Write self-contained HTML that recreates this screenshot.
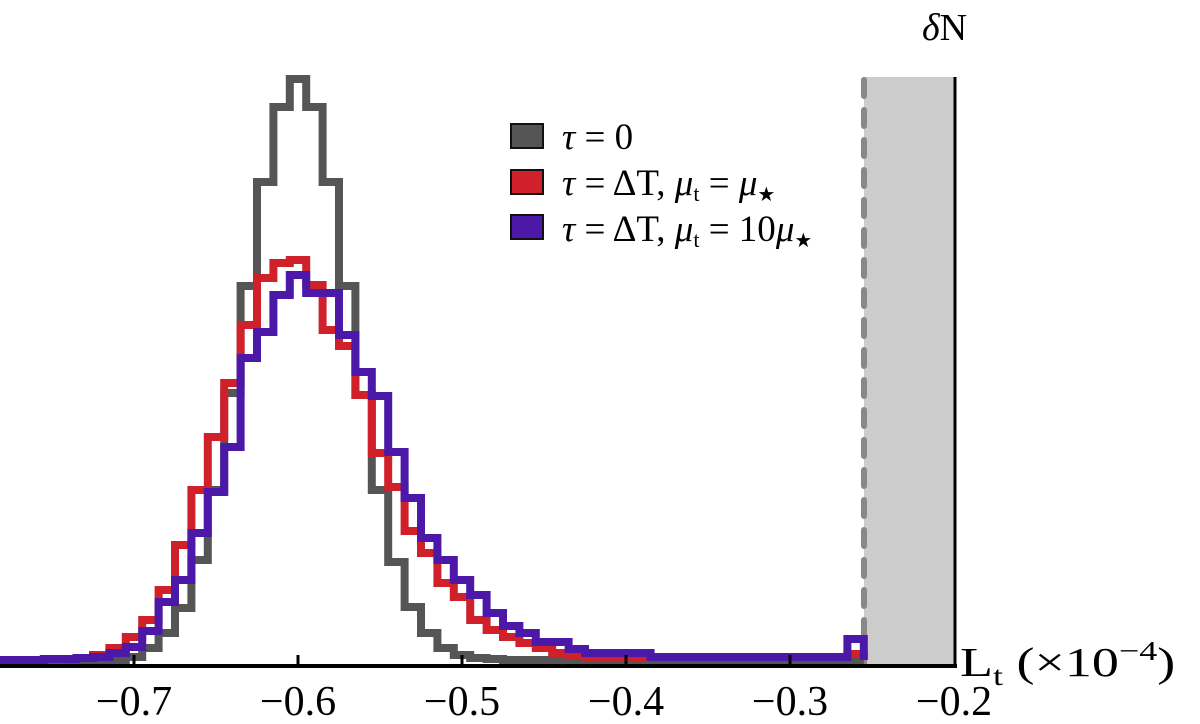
<!DOCTYPE html>
<html><head><meta charset="utf-8"><style>
html,body{margin:0;padding:0;background:#fff;}
svg{display:block;}
text{font-family:"Liberation Serif",serif;}
</style></head><body>
<svg id="chart" width="1200" height="724" viewBox="0 0 1200 724" xmlns="http://www.w3.org/2000/svg">
<rect x="864" y="77" width="91" height="589" fill="#cccccc"/>
<line x1="864" y1="80" x2="864" y2="664" stroke="#888" stroke-width="6" stroke-dasharray="16,14" stroke-linecap="round"/>
<line x1="955" y1="77" x2="955" y2="666" stroke="#000" stroke-width="3"/>
<g id="series"></g>
<line x1="0" y1="666" x2="957" y2="666" stroke="#000" stroke-width="4"/>
<g id="ticks"></g>
<text x="922" y="40" font-size="38"><tspan font-style="italic">δ</tspan>N</text>
<g transform="translate(960,676) scale(1.5,1.15)">
<text x="0" y="0" font-size="36">L<tspan font-size="24" dy="8">t</tspan><tspan dy="-8"> (×10</tspan><tspan font-size="24" dy="-14">−4</tspan><tspan dy="14">)</tspan></text>
</g>
<g>
<rect x="511" y="124" width="32" height="24" fill="#555" stroke="#111" stroke-width="2"/>
<text x="562" y="149" font-size="37"><tspan font-style="italic">τ</tspan> = 0</text>
<rect x="511" y="170" width="32" height="24" fill="#d0202a" stroke="#111" stroke-width="2"/>
<text x="562" y="195" font-size="37"><tspan font-style="italic">τ</tspan> = ΔT, <tspan font-style="italic">μ</tspan><tspan font-size="22" dy="6">t</tspan><tspan dy="-6"> = </tspan><tspan font-style="italic">μ</tspan><tspan font-size="20" dy="6">★</tspan></text>
<rect x="511" y="215" width="32" height="24" fill="#4b18a8" stroke="#111" stroke-width="2"/>
<text x="562" y="241" font-size="37"><tspan font-style="italic">τ</tspan> = ΔT, <tspan font-style="italic">μ</tspan><tspan font-size="22" dy="6">t</tspan><tspan dy="-6"> = 10</tspan><tspan font-style="italic">μ</tspan><tspan font-size="20" dy="6">★</tspan></text>
</g>
</svg>
<script>
const binCenters = [];
for (let i = 0; i < 53; i++) binCenters.push(-0.78 + i * 0.01);
const grayCounts = [0,0,0,0,0,0,0,0,3,12,27,52,100,170,267,374,478,553,581,553,478,374,265,170,98,53,27,12,5,2,1,0,0,0,0,0,0,0,0,0,0,0,0,0,0,0,0,0,0,0,0,0,0];
const redCounts = [0,0,0,0,1,2,5,12,23,40,70,115,170,223,277,335,382,397,400,375,330,314,265,207,173,129,107,77,63,40,30,23,17,12,7,4,3,2,2,2,2,2,2,2,2,2,2,2,2,2,2,2,6];
const blueCounts = [0,0,0,1,1,2,3,7,13,29,58,80,127,168,213,302,328,365,385,367,367,325,288,264,208,162,122,100,80,65,47,34,27,18,18,11,7,7,7,7,3,3,3,3,3,3,3,3,3,3,3,3,21];
const tickValues = [-0.7,-0.6,-0.5,-0.4,-0.3,-0.2];
const tickLabels = ["−0.7","−0.6","−0.5","−0.4","−0.3","−0.2"];
const binWidth = 0.01;

function xScale(v){ return 134 + (v + 0.7) * 1640; }
function yScale(c){ return 660 - c; }

const NS = "http://www.w3.org/2000/svg";
const g = document.getElementById("series");
function drawSeries(counts, color, name){
  let d = "M0," + yScale(0);
  for (let i = 0; i < binCenters.length; i++){
    const x0 = xScale(binCenters[i] - binWidth/2), x1 = xScale(binCenters[i] + binWidth/2);
    const y = yScale(counts[i]);
    d += " L" + x0.toFixed(1) + "," + y + " L" + x1.toFixed(1) + "," + y;
  }
  d += " L" + xScale(binCenters[binCenters.length-1] + binWidth/2).toFixed(1) + "," + yScale(0);
  const p = document.createElementNS(NS, "path");
  p.setAttribute("d", d);
  p.setAttribute("fill", "none");
  p.setAttribute("stroke", color);
  p.setAttribute("stroke-width", "8");
  p.setAttribute("stroke-linejoin", "miter");
  
  
  g.appendChild(p);
}
drawSeries(grayCounts, "#555555", "series-tau-0");
drawSeries(redCounts, "#d0202a", "series-tau-dt-mu-star");
drawSeries(blueCounts, "#4b18a8", "series-tau-dt-10mu-star");

const tg = document.getElementById("ticks");
for (let i = 0; i < tickValues.length; i++){
  const x = xScale(tickValues[i]);
  if (i < tickValues.length - 1){
    const l = document.createElementNS(NS, "line");
    l.setAttribute("x1", x); l.setAttribute("x2", x);
    l.setAttribute("y1", 655); l.setAttribute("y2", 666);
    l.setAttribute("stroke", "#000"); l.setAttribute("stroke-width", "3");
    
    
    tg.appendChild(l);
  }
  const t = document.createElementNS(NS, "text");
  t.setAttribute("x", x); t.setAttribute("y", 715);
  t.setAttribute("text-anchor", "middle");
  t.setAttribute("font-size", "42");
  t.textContent = tickLabels[i];
  
  
  tg.appendChild(t);
}
</script>
</body></html>
